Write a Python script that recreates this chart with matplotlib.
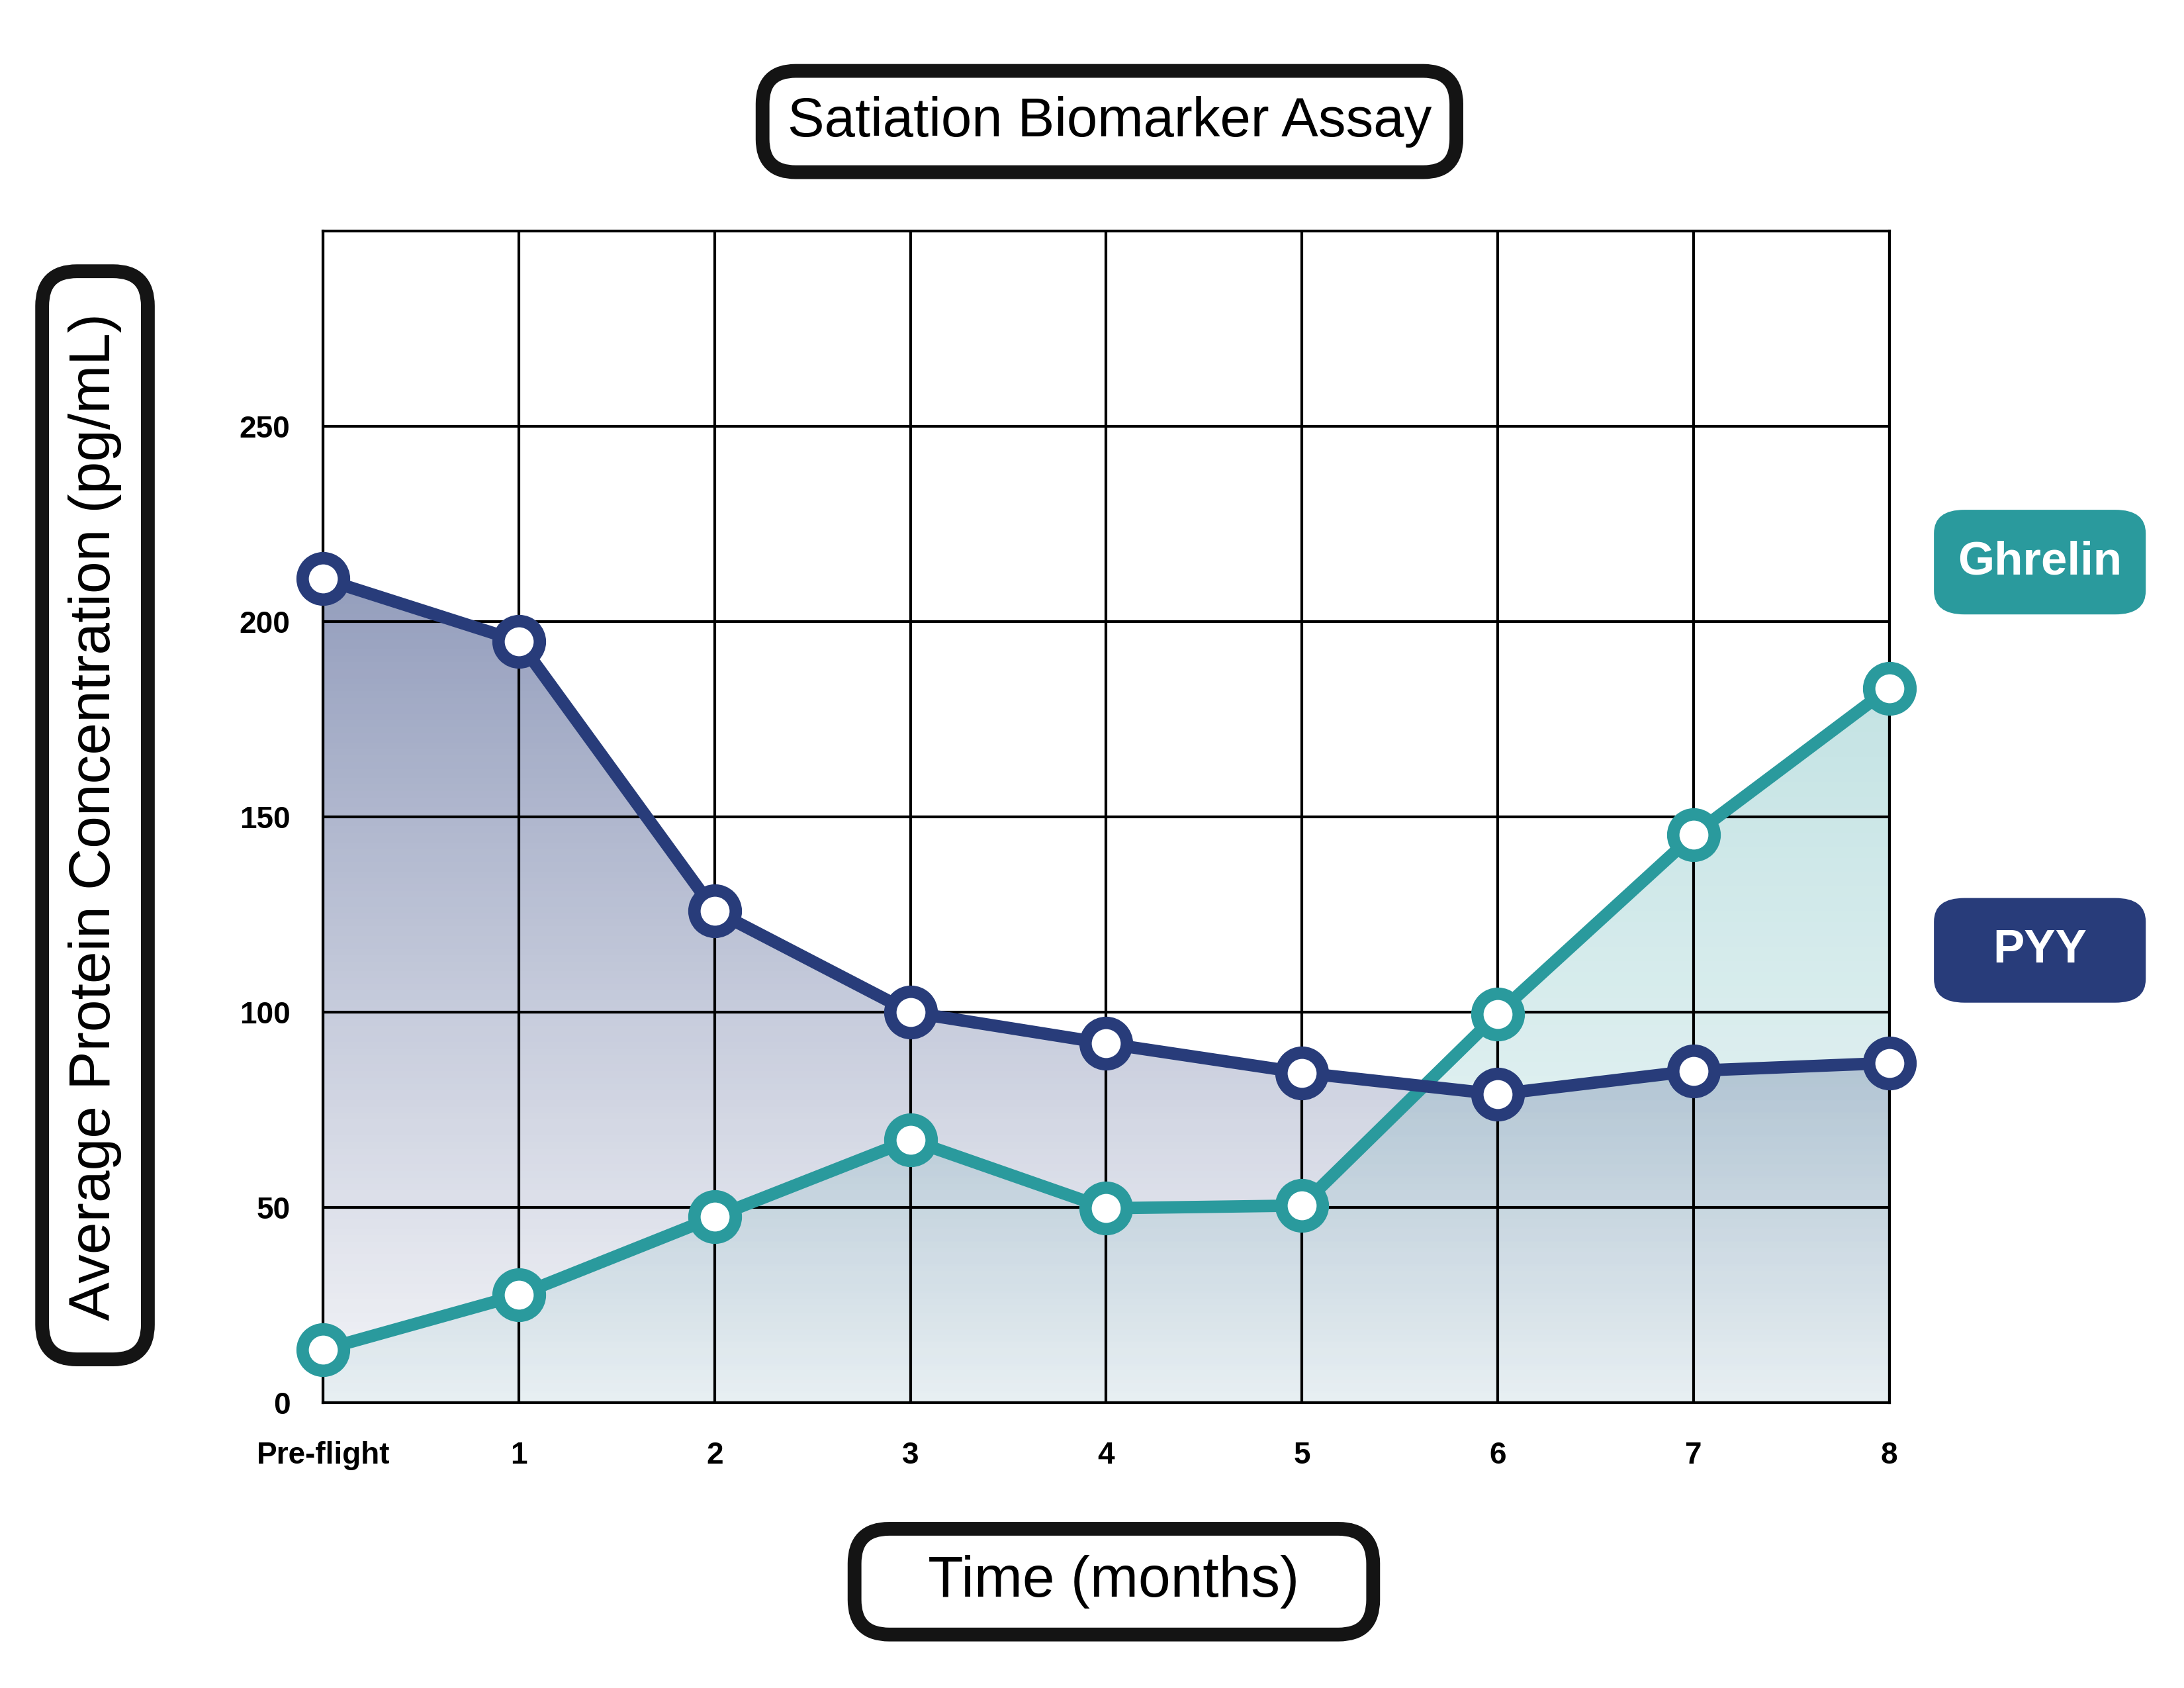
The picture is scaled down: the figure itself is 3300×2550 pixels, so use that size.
import numpy as np
import matplotlib.pyplot as plt
from matplotlib.patches import FancyBboxPatch, Polygon

plt.rcParams['font.family'] = ['Liberation Sans', 'DejaVu Sans']

months = [0, 1, 2, 3, 4, 5, 6, 7, 8]
monthLabels = ["Pre-flight", "1", "2", "3", "4", "5", "6", "7", "8"]
pyy = [211, 195, 126, 100, 92, 84.5, 79, 85, 87]
ghrelin = [13.6, 27.6, 47.6, 67.3, 49.8, 50.5, 99.6, 145.4, 183]
yTicks = [0, 50, 100, 150, 200, 250]

navy = '#283c7a'
teal = '#2a9a9d'

fig = plt.figure(figsize=(11, 8.5), dpi=300)
ax = fig.add_axes([0.148, 0.169, 0.717, 0.694])
ax.set_xlim(0, 8)
ax.set_ylim(0, 300)


def gradientFill(xs, ys, color, aTop, aBot, z):
    # vertical gradient clipped to the area under the line
    rgb = plt.matplotlib.colors.to_rgb(color)
    grad = np.zeros((256, 2, 4))
    grad[:, :, :3] = rgb
    grad[:, :, 3] = np.linspace(aTop, aBot, 256)[:, None]
    top = max(ys)
    im = ax.imshow(grad, extent=[0, 8, 0, top], origin='upper', aspect='auto', zorder=z)
    poly = Polygon(list(zip(xs, ys)) + [(xs[-1], 0), (xs[0], 0)], closed=True,
                   transform=ax.transData, facecolor='none', edgecolor='none')
    ax.add_patch(poly)
    im.set_clip_path(poly)


gradientFill(months, ghrelin, teal, 0.28, 0.06, 1)
gradientFill(months, pyy, navy, 0.5, 0.05, 2)

ax.set_xticks(months)
ax.set_yticks(yTicks)
ax.grid(True, color='black', linewidth=1.0, zorder=3)
ax.set_axisbelow(False)
for s in ax.spines.values():
    s.set_linewidth(1.0)
ax.tick_params(length=0, pad=14)
ax.set_xticklabels(monthLabels, fontweight='bold', fontsize=11)
ax.set_yticklabels([str(v) for v in yTicks], fontweight='bold', fontsize=11)
ax.tick_params(axis='y', pad=12)
ax.set_ylim(0, 300)
ax.set_xlim(0, 8)

ax.plot(months, ghrelin, color=teal, linewidth=4.5, marker='o', markersize=15,
        markerfacecolor='white', markeredgecolor=teal, markeredgewidth=4.5,
        zorder=5, clip_on=False)
ax.plot(months, pyy, color=navy, linewidth=4.5, marker='o', markersize=15,
        markerfacecolor='white', markeredgecolor=navy, markeredgewidth=4.5,
        zorder=6, clip_on=False)

boxStyle = dict(boxstyle='round,pad=0.45,rounding_size=0.6', facecolor='white',
                edgecolor='#141414', linewidth=5)
fig.text(0.508, 0.928, "Satiation Biomarker Assay", ha='center', va='center',
         fontsize=20, bbox=boxStyle)
fig.text(0.510, 0.063, "   Time (months)   ", ha='center', va='center',
         fontsize=21, bbox=boxStyle)
fig.text(0.0435, 0.517, " Average Protein Concentration (pg/mL) ", ha='center',
         va='center', rotation=90, fontsize=21, bbox=boxStyle)

# legend tags
for label, col, yc in [("Ghrelin", teal, 0.667), ("PYY", navy, 0.437)]:
    w, h = 0.097, 0.062
    fig.patches.append(FancyBboxPatch((0.934 - w / 2, yc - h / 2), w, h,
                                      boxstyle='round,pad=0,rounding_size=0.014',
                                      facecolor=col, edgecolor='none',
                                      transform=fig.transFigure, figure=fig))
    fig.text(0.934, yc, label, ha='center', va='center', color='white',
             fontweight='bold', fontsize=17)

fig.savefig('out.png', dpi=300, facecolor='white')
